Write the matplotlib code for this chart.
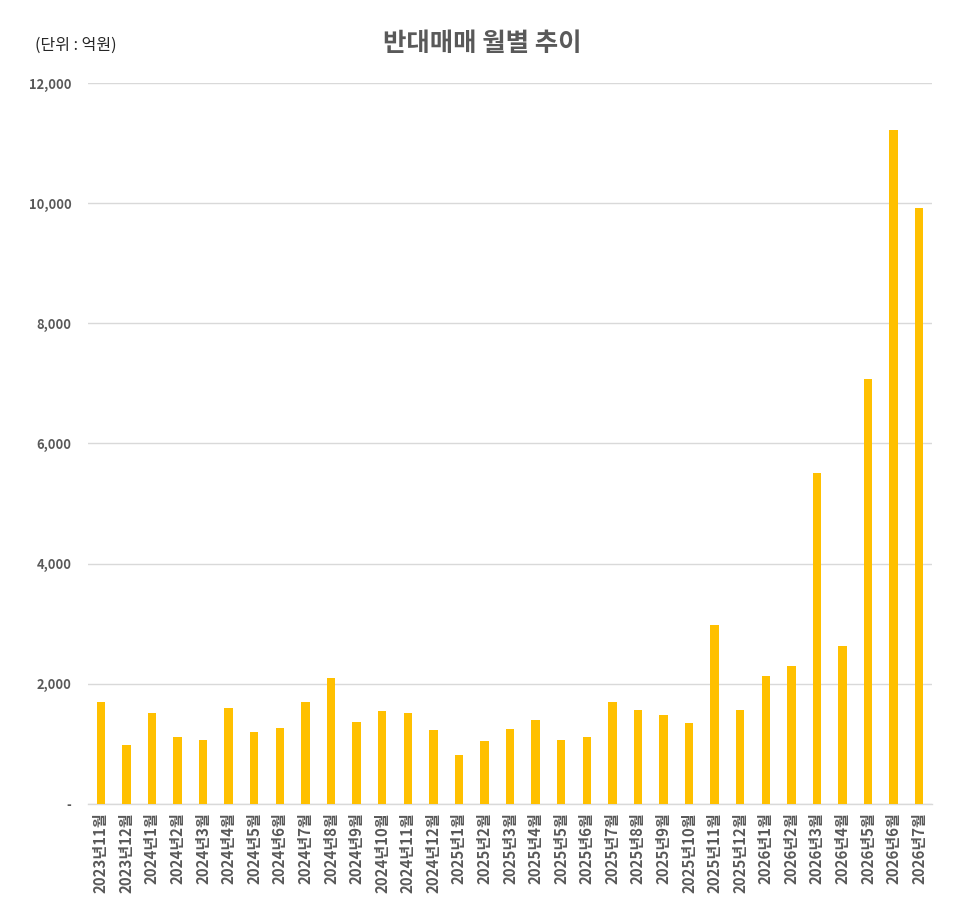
import numpy as np
import matplotlib
matplotlib.use("Agg")
import matplotlib.pyplot as plt
from matplotlib.ticker import FuncFormatter

plt.rcParams['font.family'] = ['Noto Sans CJK KR', 'DejaVu Sans']

# monthly values (unit: 100M KRW)
months = ['2023년11월', '2023년12월',
          '2024년1월', '2024년2월', '2024년3월', '2024년4월', '2024년5월', '2024년6월',
          '2024년7월', '2024년8월', '2024년9월', '2024년10월', '2024년11월', '2024년12월',
          '2025년1월', '2025년2월', '2025년3월', '2025년4월', '2025년5월', '2025년6월',
          '2025년7월', '2025년8월', '2025년9월', '2025년10월', '2025년11월', '2025년12월',
          '2026년1월', '2026년2월', '2026년3월', '2026년4월', '2026년5월', '2026년6월',
          '2026년7월']
values = [1690, 990, 1520, 1120, 1070, 1600, 1200, 1270,
          1690, 2100, 1370, 1550, 1520, 1235,
          820, 1050, 1250, 1400, 1070, 1120,
          1700, 1570, 1485, 1350, 2985, 1570,
          2135, 2300, 5510, 2635, 7070, 11220,
          9920]
y_ticks = [0, 2000, 4000, 6000, 8000, 10000, 12000]

gray = '#595959'
grid_col = '#D9D9D9'

fig = plt.figure(figsize=(9.75, 9.1), dpi=100)
ax = fig.add_axes([0.0903, 0.1165, 0.8656, 0.7923])

x = np.arange(len(months))
ax.bar(x, values, width=0.33, color='#FFC000', zorder=3)

ax.set_xlim(-0.5, len(months) - 0.5)
ax.set_ylim(0, 12000)
ax.set_yticks(y_ticks)
ax.yaxis.set_major_formatter(FuncFormatter(lambda v, p: '-' if v == 0 else f'{int(v):,}'))
ax.set_xticks(x)
ax.set_xticklabels(months, rotation=90)

ax.grid(axis='y', color=grid_col, linewidth=1, zorder=0)
for s in ['top', 'right', 'left']:
    ax.spines[s].set_visible(False)
ax.spines['bottom'].set_color(grid_col)
ax.spines['bottom'].set_linewidth(1)

ax.tick_params(axis='both', length=0, colors=gray)
ax.tick_params(axis='y', pad=12, labelsize=9.3)
ax.tick_params(axis='x', pad=6, labelsize=10.8)
for lab in ax.get_xticklabels() + ax.get_yticklabels():
    lab.set_fontweight('bold')
    lab.set_color(gray)

fig.text(0.495, 0.952, '반대매매 월별 추이', ha='center', va='center',
         fontsize=18.3, fontweight='bold', color=gray)
fig.text(0.036, 0.950, '(단위 : 억원)', ha='left', va='center',
         fontsize=11.5, color='#262626')

fig.savefig('out.png', dpi=100)
